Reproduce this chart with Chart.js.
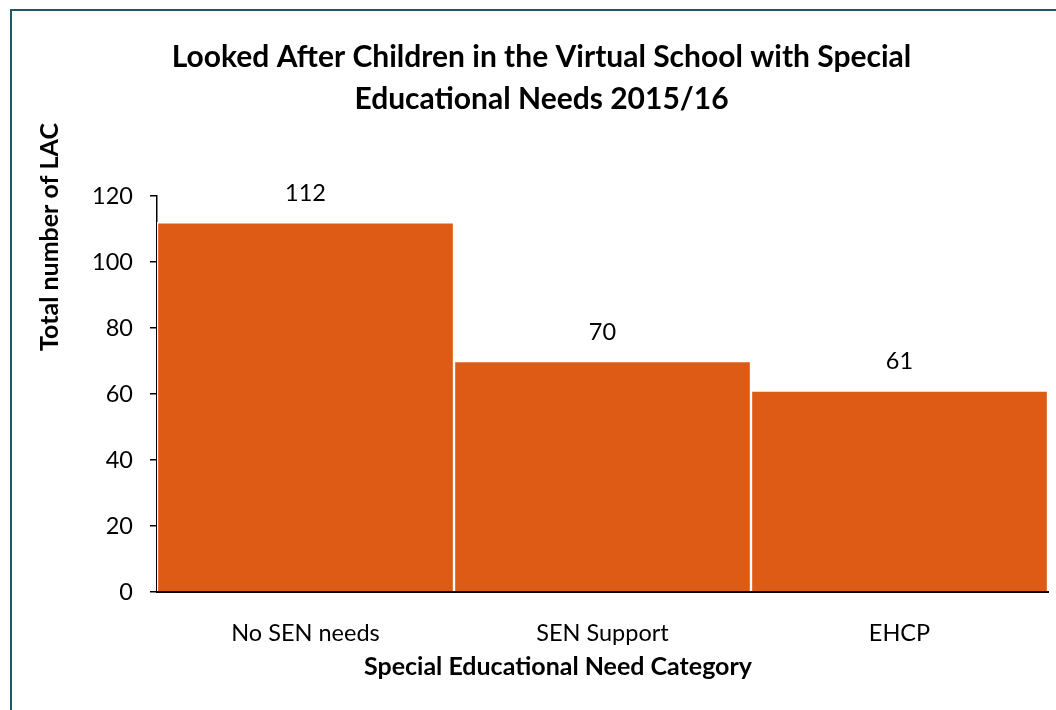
<!DOCTYPE html>
<html>
<head>
<meta charset="utf-8">
<script src="https://cdn.jsdelivr.net/npm/chart.js@4.4.1/dist/chart.umd.min.js"></script>
<style>
  html, body { margin: 0; padding: 0; background: #fff; }
  #wrap { position: relative; width: 1056px; height: 710px; overflow: hidden; }
  #frame { position: absolute; left: 10px; top: 9px; width: 1100px; height: 760px; border: 2px solid #215868; box-sizing: border-box; }
  #chart { position: absolute; left: 0; top: 0; }
</style>
</head>
<body>
<div id="wrap">
  <div id="frame"></div>
  <canvas id="chart" width="1056" height="710"></canvas>
</div>
<script>
/* ---------- Data ---------- */
const categories = ["No SEN needs", "SEN Support", "EHCP"];
const lacCounts = [112, 70, 61];
const yTicks = [0, 20, 40, 60, 80, 100, 120];

const FONT = "Lato, 'Open Sans', sans-serif";
const BAR_COLOR = "#DD5B14";

/* ---------- Value labels above bars + axis titles ---------- */
const valueLabels = {
    id: "valueLabels",
    afterDatasetsDraw: function (chart) {
        const ctx = chart.ctx;
        const meta = chart.getDatasetMeta(0);
        ctx.save();
        ctx.font = "23.5px " + FONT;
        ctx.fillStyle = "#000";
        ctx.textAlign = "center";
        ctx.textBaseline = "middle";
        meta.data.forEach(function (bar, i) {
            ctx.fillText(String(lacCounts[i]), bar.x, bar.y - 29);
        });
        ctx.font = "bold 25px " + FONT;
        ctx.fillText("Special Educational Need Category", 558, 667);
        ctx.translate(50, 237);
        ctx.rotate(-Math.PI / 2);
        ctx.fillText("Total number of LAC", 0, 0);
        ctx.restore();
    }
};

new Chart(document.getElementById("chart").getContext("2d"), {
    type: "bar",
    data: {
        labels: categories,
        datasets: [{
            data: lacCounts,
            backgroundColor: BAR_COLOR,
            borderColor: "#ffffff",
            borderWidth: 1.5,
            borderSkipped: "bottom",
            barPercentage: 1,
            categoryPercentage: 1
        }]
    },
    options: {
        responsive: false,
        animation: false,
        layout: { padding: { left: 35, right: 8, top: 0, bottom: 0 } },
        plugins: {
            legend: { display: false },
            tooltip: { enabled: false },
            title: {
                display: true,
                text: ["Looked After Children in the Virtual School with Special", "Educational Needs 2015/16"],
                color: "#000",
                font: { family: FONT, size: 30, weight: "bold", lineHeight: 1.4 },
                padding: { top: 36, bottom: 76 }
            }
        },
        scales: {
            x: {
                grid: { drawOnChartArea: false, drawTicks: false },
                border: { display: true, color: "#000", width: 2 },
                ticks: { color: "#000", font: { family: FONT, size: 23.5 }, padding: 27 },
                afterFit: function (scale) { scale.height = 118; }
            },
            y: {
                min: 0,
                max: 120,
                afterBuildTicks: function (scale) { scale.ticks = yTicks.map(function (v) { return { value: v }; }); },
                grid: { drawOnChartArea: false, drawTicks: true, tickLength: 7, color: "#000", lineWidth: 1.5 },
                border: { display: true, color: "#000", width: 1.5 },
                ticks: { color: "#000", font: { family: FONT, size: 23.5 }, padding: 17 },
                afterFit: function (scale) { scale.width = 157 - 35; }
            }
        }
    },
    plugins: [valueLabels]
});
</script>
</body>
</html>
